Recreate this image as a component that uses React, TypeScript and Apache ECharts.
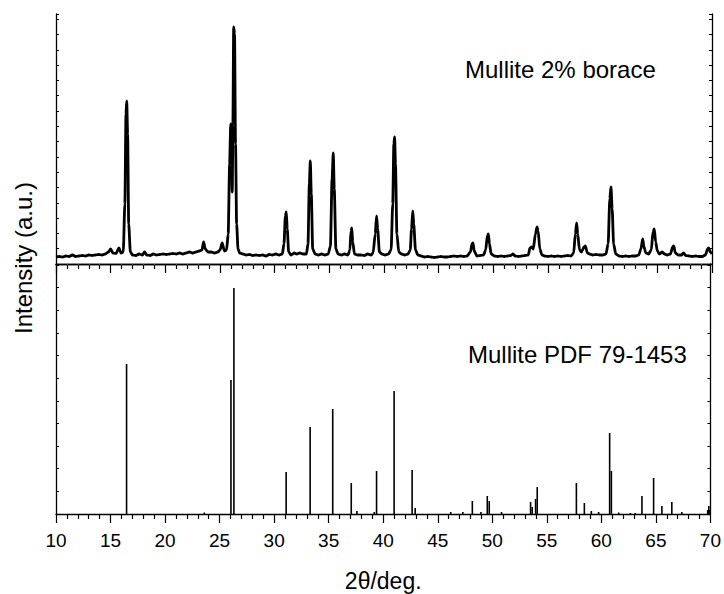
import React, { useEffect, useRef } from "react";
import * as echarts from "echarts";

// 2θ range and tick labels
const xMin = 10;
const xMax = 70;
const xTickLabels = ["10", "15", "20", "25", "30", "35", "40", "45", "50", "55", "60", "65", "70"];

// Measured pattern: Mullite 2% borace  [2θ, intensity (a.u.)]
const measured: [number, number][] = [
  [10.0, 7], [10.3, 7.5], [10.6, 7], [10.9, 8], [11.2, 7.5], [11.5, 9], [11.8, 7.5], [12.1, 8],
  [12.4, 8.5], [12.7, 8], [13.0, 9], [13.3, 8.5], [13.6, 9], [13.9, 9.5], [14.2, 9], [14.5, 10],
  [14.8, 12], [15.0, 15], [15.2, 11], [15.5, 10.5], [15.75, 16], [15.95, 11], [16.15, 12],
  [16.3, 60], [16.4, 150], [16.47, 163], [16.55, 130], [16.65, 40], [16.8, 12], [17.0, 9],
  [17.3, 8.5], [17.6, 10], [17.9, 9], [18.1, 12], [18.3, 9], [18.6, 8.5], [18.9, 10], [19.2, 9],
  [19.5, 9.5], [19.8, 10], [20.1, 9.5], [20.4, 10], [20.7, 10.5], [21.0, 10], [21.3, 11],
  [21.6, 10], [21.9, 11], [22.2, 12], [22.5, 11], [22.8, 12], [23.1, 13], [23.35, 14],
  [23.5, 22], [23.65, 15], [23.9, 12], [24.2, 12], [24.5, 11], [24.8, 12], [25.0, 14],
  [25.2, 21], [25.4, 13], [25.6, 14], [25.75, 30], [25.88, 100], [25.98, 140], [26.06, 120],
  [26.12, 72], [26.18, 140], [26.25, 237], [26.33, 230], [26.42, 120], [26.52, 40], [26.65, 15],
  [26.8, 11], [27.1, 10], [27.4, 9], [27.7, 9.5], [28.0, 8.5], [28.3, 9], [28.6, 8.5], [28.9, 9],
  [29.2, 8], [29.5, 9.5], [29.8, 9], [30.1, 10], [30.4, 9], [30.7, 10], [30.85, 20], [30.98, 48],
  [31.06, 52], [31.15, 35], [31.28, 12], [31.5, 9], [31.8, 11], [32.0, 10], [32.3, 11],
  [32.6, 10], [32.9, 10], [33.05, 20], [33.17, 80], [33.26, 103], [33.35, 70], [33.48, 15],
  [33.7, 10], [34.0, 9], [34.3, 10], [34.6, 9], [34.9, 10], [35.1, 18], [35.25, 85], [35.36, 111],
  [35.45, 75], [35.6, 15], [35.8, 10], [36.1, 9], [36.4, 10], [36.7, 9], [36.88, 14], [36.98, 33],
  [37.05, 36], [37.14, 22], [37.3, 10], [37.6, 9], [37.9, 9], [38.2, 8.5], [38.5, 10], [38.8, 9],
  [39.0, 11], [39.2, 30], [39.32, 48], [39.42, 35], [39.58, 12], [39.8, 10], [40.1, 9], [40.4, 10],
  [40.65, 14], [40.8, 60], [40.9, 120], [40.97, 127], [41.05, 100], [41.18, 30], [41.35, 12],
  [41.6, 10], [41.9, 9], [42.2, 10], [42.4, 14], [42.52, 35], [42.63, 53], [42.72, 40],
  [42.88, 14], [43.1, 9], [43.4, 8], [43.7, 7], [44.0, 7.5], [44.3, 7], [44.6, 6.5], [44.9, 7],
  [45.2, 7.5], [45.5, 7], [45.8, 7], [46.1, 7.5], [46.4, 8], [46.7, 7.5], [47.0, 8], [47.3, 7.5],
  [47.6, 8], [47.9, 12], [48.05, 20], [48.14, 21], [48.25, 13], [48.5, 8], [48.8, 8.5], [49.1, 9],
  [49.3, 14], [49.45, 28], [49.54, 30], [49.65, 20], [49.8, 10], [50.1, 8], [50.4, 7.5], [50.7, 8],
  [51.0, 7.5], [51.3, 8], [51.6, 8.5], [51.8, 10], [52.0, 8], [52.3, 7.5], [52.6, 8], [52.9, 8.5],
  [53.2, 9], [53.35, 16], [53.5, 17], [53.65, 15], [53.85, 30], [54.0, 37], [54.1, 33],
  [54.25, 15], [54.45, 9], [54.7, 8], [55.0, 7.5], [55.3, 8], [55.6, 7.5], [55.9, 8], [56.2, 7.5],
  [56.5, 8], [56.8, 8.5], [57.1, 8], [57.35, 11], [57.5, 30], [57.62, 41], [57.72, 30],
  [57.88, 14], [58.05, 12], [58.3, 17], [58.42, 18], [58.6, 11], [58.8, 10], [59.1, 9],
  [59.4, 9.5], [59.7, 9], [60.0, 9], [60.3, 10], [60.5, 20], [60.65, 65], [60.76, 77],
  [60.87, 55], [61.0, 20], [61.2, 10], [61.5, 8], [61.8, 7.5], [62.1, 8], [62.4, 7.5], [62.7, 8],
  [63.0, 8], [63.3, 9], [63.5, 15], [63.66, 25], [63.78, 17], [63.95, 11], [64.2, 10],
  [64.45, 14], [64.6, 32], [64.72, 35], [64.85, 22], [65.0, 13], [65.2, 10], [65.45, 12],
  [65.65, 10], [65.9, 9], [66.2, 10], [66.4, 17], [66.5, 18], [66.65, 11], [66.9, 9], [67.2, 9],
  [67.4, 11], [67.6, 8.5], [67.9, 8], [68.2, 7.5], [68.5, 8], [68.8, 7.5], [69.1, 7.5], [69.4, 9],
  [69.6, 15], [69.7, 16], [69.85, 12], [70.0, 10],
];

// Reference pattern: Mullite PDF 79-1453 sticks  [2θ, intensity]
const pdfPositions = [
  16.47, 23.6, 26.04, 26.31, 31.1, 33.3, 35.37, 37.07, 37.59, 39.18, 39.39, 41.0, 42.65, 42.93,
  46.19, 47.3, 48.17, 48.96, 49.54, 49.72, 50.85, 53.51, 53.66, 53.97, 54.12, 57.71, 58.44,
  59.08, 59.75, 60.76, 60.92, 61.59, 62.66, 63.1, 63.72, 64.79, 65.55, 66.46, 67.38, 69.75,
  69.85, 69.96,
];
const pdfIntensities = [
  150, 1.5, 134, 226, 42, 87, 105, 31, 3, 2, 43, 123, 44, 6,
  2, 2, 13, 2, 18, 13, 2, 12, 7, 15, 27, 31, 11,
  3, 2, 81, 43, 1.5, 1, 1, 18, 36, 8, 12, 2, 4,
  8, 4,
];

const topLabel = "Mullite 2% borace";
const bottomLabel = "Mullite PDF 79-1453";
const yTitle = "Intensity (a.u.)";
const xTitle = "2θ/deg.";

const FONT = "'Liberation Sans', Arial, Helvetica, sans-serif";

export default function App() {
  const ref = useRef<HTMLDivElement>(null);

  useEffect(() => {
    if (!ref.current) return;
    const chart = echarts.init(ref.current, undefined, { renderer: "svg" });

    const axisLine = { show: true, lineStyle: { color: "#000", width: 1.3 } };
    const baseX = {
      type: "value" as const,
      min: xMin,
      max: xMax,
      interval: 5,
      splitLine: { show: false },
      axisLine,
    };
    const sticks = pdfPositions.map((x, i) => [x, pdfIntensities[i]]);

    chart.setOption({
      animation: false,
      backgroundColor: "#fff",
      textStyle: { fontFamily: FONT },
      grid: [
        { left: 56, top: 14, width: 656, height: 250 },
        { left: 56, top: 264, width: 656, height: 250 },
      ],
      xAxis: [
        {
          ...baseX,
          gridIndex: 0,
          position: "bottom",
          axisTick: { show: true, inside: false, length: 9, lineStyle: { color: "#000", width: 1.2 } },
          minorTick: { show: true, splitNumber: 5, length: 5, lineStyle: { color: "#000", width: 1.2 } },
          axisLabel: { show: false },
        },
        {
          ...baseX,
          gridIndex: 0,
          position: "top",
          axisTick: { show: true, inside: true, length: 2, lineStyle: { color: "#000" } },
          minorTick: { show: true, splitNumber: 5, length: 1, lineStyle: { color: "#555" } },
          axisLabel: { show: false },
        },
        {
          ...baseX,
          gridIndex: 1,
          position: "bottom",
          axisTick: { show: true, inside: false, length: 9, lineStyle: { color: "#000", width: 1.2 } },
          minorTick: { show: true, splitNumber: 5, length: 5, lineStyle: { color: "#000", width: 1.2 } },
          axisLabel: {
            show: true,
            margin: 17,
            color: "#000",
            fontSize: 19,
            fontFamily: FONT,
            formatter: (v: number) => {
              const idx = Math.round((v - xMin) / 5);
              return xTickLabels[idx] ?? "";
            },
          },
          name: xTitle,
          nameLocation: "middle",
          nameGap: 55,
          nameTextStyle: { color: "#000", fontSize: 23, fontFamily: FONT },
        },
      ],
      yAxis: [
        {
          type: "value", gridIndex: 0, position: "left", min: 0, max: 250, interval: 15.3,
          axisLine, splitLine: { show: false }, axisLabel: { show: false },
          axisTick: { show: true, inside: true, length: 3, lineStyle: { color: "#000" } },
        },
        {
          type: "value", gridIndex: 0, position: "right", min: 0, max: 250, interval: 15.3,
          axisLine, splitLine: { show: false }, axisLabel: { show: false },
          axisTick: { show: true, inside: true, length: 3, lineStyle: { color: "#000" } },
        },
        {
          type: "value", gridIndex: 1, position: "left", min: 0, max: 250, interval: 22.65,
          axisLine, splitLine: { show: false }, axisLabel: { show: false },
          axisTick: { show: true, inside: true, length: 3, lineStyle: { color: "#000" } },
        },
        {
          type: "value", gridIndex: 1, position: "right", min: 0, max: 250, interval: 22.65,
          axisLine, splitLine: { show: false }, axisLabel: { show: false },
          axisTick: { show: true, inside: true, length: 3, lineStyle: { color: "#000" } },
        },
      ],
      series: [
        {
          type: "line",
          xAxisIndex: 0,
          yAxisIndex: 0,
          data: measured,
          showSymbol: false,
          symbol: "none",
          smooth: 0.25,
          smoothMonotone: "x",
          lineStyle: { color: "#000", width: 2.8, join: "round" },
          z: 3,
        },
        {
          type: "custom",
          xAxisIndex: 2,
          yAxisIndex: 2,
          data: sticks,
          renderItem: (params: any, api: any) => {
            const x = api.value(0);
            const h = api.value(1);
            const p0 = api.coord([x, 0]);
            const p1 = api.coord([x, h]);
            return {
              type: "line",
              shape: { x1: p0[0], y1: p0[1], x2: p1[0], y2: p1[1] },
              style: { stroke: "#000", lineWidth: 1.6 },
            };
          },
          z: 3,
        },
      ],
      graphic: [
        {
          type: "text",
          left: 465,
          top: 57,
          style: { text: topLabel, fontSize: 24, fill: "#000", fontFamily: FONT },
        },
        {
          type: "text",
          left: 468,
          top: 342,
          style: { text: bottomLabel, fontSize: 24, fill: "#000", fontFamily: FONT },
        },
        {
          type: "text",
          x: 23,
          y: 258,
          rotation: Math.PI / 2,
          style: {
            text: yTitle,
            fontSize: 24,
            fill: "#000",
            fontFamily: FONT,
            textAlign: "center",
            textVerticalAlign: "middle",
          },
        },
      ],
    });

    return () => chart.dispose();
  }, []);

  return (
    <div
      ref={ref}
      style={{ position: "fixed", left: 0, top: 0, width: 724, height: 594, background: "#fff" }}
    />
  );
}
